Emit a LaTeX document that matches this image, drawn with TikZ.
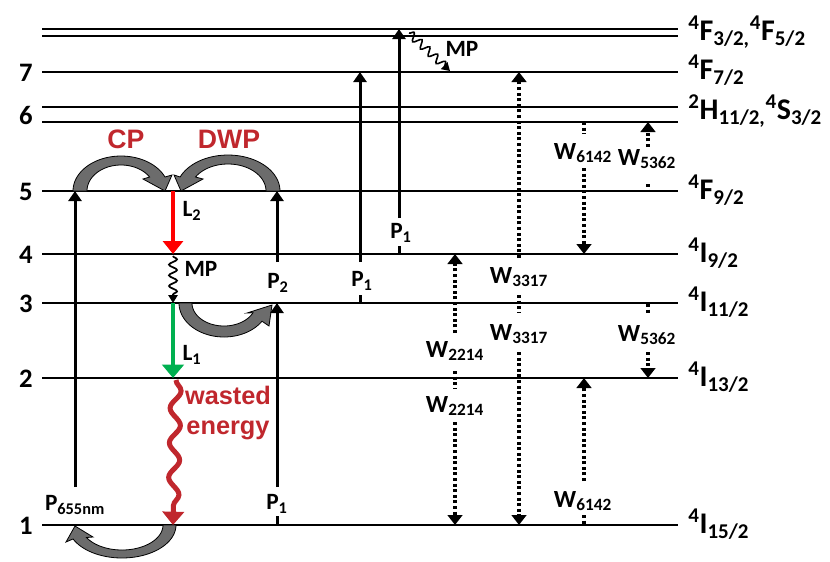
\documentclass[tikz,border=0pt]{standalone}
\usepackage{fontspec}
\setmainfont{Carlito}
\newfontfamily\arialf{Liberation Sans}
\usetikzlibrary{arrows.meta,decorations.pathmorphing}
\definecolor{cpred}{RGB}{192,39,45}
\definecolor{lred}{RGB}{255,0,0}
\definecolor{lgreen}{RGB}{0,176,80}
\definecolor{fatgray}{RGB}{108,108,108}
\begin{document}
\begin{tikzpicture}[x=0.75pt,y=-0.75pt,
  lvl/.style={line width=1.5pt},
  pump/.style={line width=2.25pt,-{Triangle[width=9.75pt,length=7.5pt]}},
  tickline/.style={line width=2.25pt},
  dots/.style={line width=2.4pt,dash pattern=on 2.2pt off 2pt},
  dotarr/.style={dots,-{Triangle[width=11pt,length=7.5pt]}},
  fat/.style={draw=black,line width=0.6pt,fill=fatgray},
  lab/.style={inner sep=0pt,font=\fontsize{17.5}{20}\selectfont\bfseries},
  wlab/.style={inner sep=0pt,font=\fontsize{18.5}{21}\selectfont\bfseries},
  state/.style={inner sep=0pt,anchor=base west,font=\fontsize{22.5}{26}\selectfont\bfseries},
  num/.style={inner sep=0pt,anchor=base,font=\fontsize{20}{24}\selectfont\bfseries},
  redlab/.style={inner sep=0pt,text=cpred,font=\arialf\fontsize{20}{24}\selectfont\bfseries},
]
\useasboundingbox (0,0) rectangle (830,561);

% ---- energy levels
\foreach \n/\y in {lA/29,lB/36,l7/72,l6a/107,l6b/122,l5/191,l4/254,l3/303,l2/378,l1/525}{
  \coordinate (\n-w) at (42,\y);
  \coordinate (\n-e) at (678,\y);
  \draw[lvl] (\n-w) -- (\n-e);
}

% ---- level numbers
\node[num] (n7) at (26,81) {7};
\node[num] (n6) at (26,124) {6};
\node[num] (n5) at (26,200) {5};
\node[num] (n4) at (26,263) {4};
\node[num] (n3) at (26,312) {3};
\node[num] (n2) at (26,387) {2};
\node[num] (n1) at (26,534) {1};

% ---- state labels
\node[state] (sA) at (688,40) {\textsuperscript{4}F\textsubscript{3/2,}\textsuperscript{4}F\textsubscript{5/2}};
\node[state] (s7) at (688,79) {\textsuperscript{4}F\textsubscript{7/2}};
\node[state] (s6) at (688,119) {\textsuperscript{2}H\textsubscript{11/2,}\textsuperscript{4}S\textsubscript{3/2}};
\node[state] (s5) at (688,199) {\textsuperscript{4}F\textsubscript{9/2}};
\node[state] (s4) at (688,262) {\textsuperscript{4}I\textsubscript{9/2}};
\node[state] (s3) at (688,311) {\textsuperscript{4}I\textsubscript{11/2}};
\node[state] (s2) at (688,386) {\textsuperscript{4}I\textsubscript{13/2}};
\node[state] (s1) at (688,533) {\textsuperscript{4}I\textsubscript{15/2}};

% ---- grey curved (fat) arrows
% CP
\draw[fat] plot[domain=180:23.6,samples=40] ({121+48*cos(\x)},{191-35*sin(\x)})
  -- (172,175) -- (165,191) -- (143,179)
  -- plot[domain=32.6:180,samples=40] ({121+34*cos(\x)},{191-26*sin(\x)}) -- cycle;
% DWP
\draw[fat] plot[domain=0:157.1,samples=40] ({228+52*cos(\x)},{191-36*sin(\x)})
  -- (174,175) -- (181,191) -- (203,179)
  -- plot[domain=148.8:0,samples=40] ({228+38*cos(\x)},{191-27*sin(\x)}) -- cycle;
% level 3 transfer
\draw[fat] plot[domain=180:32.4,samples=40] ({224+45*cos(\x)},{303+34*sin(\x)})
  -- (269,326) -- (272,305) -- (247,313)
  -- plot[domain=25:180,samples=40] ({224+32*cos(\x)},{303+23*sin(\x)}) -- cycle;
% ground level return
\draw[fat] plot[domain=0:155,samples=40] ({122+54*cos(\x)},{525+33*sin(\x)})
  -- (66,542) -- (75,526) -- (93,537)
  -- plot[domain=150:0,samples=40] ({122+41*cos(\x)},{525+25*sin(\x)}) -- cycle;

% ---- red / green decay arrows
\coordinate (L2s) at (173,191);
\coordinate (L2e) at (173,254);
\coordinate (MPs) at (173,256);
\coordinate (MPe) at (173,303);
\coordinate (L1s) at (173,303);
\coordinate (L1e) at (173,378);
\coordinate (Ws) at (176,380);
\coordinate (We) at (173,525);
\draw[lred,line width=3.5pt,-{Triangle[width=15pt,length=9.75pt]}] (L2s) -- (L2e);
\draw[line width=1.3pt,decorate,decoration={snake,amplitude=3pt,segment length=8pt,post length=5pt},
  -{Triangle[width=7pt,length=6pt]}] (MPs) -- (MPe);
\draw[lgreen,line width=3.5pt,-{Triangle[width=16pt,length=10pt]}] (L1s) -- (L1e);
\draw[cpred,line width=3.75pt,decorate,decoration={snake,amplitude=4pt,segment length=26pt,post length=9pt},
  -{Triangle[width=16pt,length=10pt]}] (Ws) -- (We);

% ---- top MP
\coordinate (TMs) at (409,33);
\coordinate (TMe) at (450,71);
\draw[line width=1.2pt,decorate,decoration={snake,amplitude=3pt,segment length=8pt,post length=4pt},
  -{Triangle[width=7pt,length=6pt]}] (TMs) -- (TMe);
\node[lab] (mpT) at (462,49) {MP};

% ---- pump arrows
\node[lab] (p655) at (75,505) {P\textsubscript{655nm}};
\coordinate (p655s) at (75,487);
\coordinate (p655e) at (75,191);
\draw[pump] (p655s) -- (p655e);

\node[lab] (p1a) at (277,504) {P\textsubscript{1}};
\coordinate (p1as) at (277,487);
\coordinate (p1ae) at (277,303);
\coordinate (p1at) at (277,516);
\coordinate (p1ab) at (277,525);
\draw[pump] (p1as) -- (p1ae);
\draw[tickline] (p1at) -- (p1ab);

\node[lab] (p2) at (278,283) {P\textsubscript{2}};
\coordinate (p2s) at (277,262);
\coordinate (p2e) at (277,191);
\draw[pump] (p2s) -- (p2e);

\node[lab] (p1b) at (362,281) {P\textsubscript{1}};
\coordinate (p1bs) at (360,262);
\coordinate (p1be) at (360,72);
\coordinate (p1bt) at (360,295);
\coordinate (p1bb) at (360,303);
\draw[pump] (p1bs) -- (p1be);
\draw[tickline] (p1bt) -- (p1bb);

\node[lab] (p1c) at (401,233) {P\textsubscript{1}};
\coordinate (p1cs) at (399,218);
\coordinate (p1ce) at (399,29);
\coordinate (p1ct) at (399,246);
\coordinate (p1cb) at (399,254);
\draw[pump] (p1cs) -- (p1ce);
\draw[tickline] (p1ct) -- (p1cb);

% ---- left labels
\node[redlab] (cp) at (126,139) {CP};
\node[redlab] (dwp) at (229,139) {DWP};
\node[lab] (lL2) at (192,211) {L\textsubscript{2}};
\node[lab] (mpL) at (201,269) {MP};
\node[lab] (lL1) at (192,355) {L\textsubscript{1}};
\node[inner sep=0pt,text=cpred,align=center,font=\arialf\fontsize{19}{22.5}\selectfont\bfseries] (waste) at (228,413) {wasted\\energy};

% ---- dotted energy-transfer arrows
% W2214
\draw[dotarr] (455,333) -- (455,254);
\draw[dots] (455,371) -- (455,388);
\draw[dotarr] (455,422) -- (455,525);
\node[wlab] (w2214a) at (455,351) {W\textsubscript{2214}};
\node[wlab] (w2214b) at (455,406) {W\textsubscript{2214}};
% W3317
\draw[dotarr] (519,258) -- (519,72);
\draw[dots] (519,295) -- (519,313);
\draw[dotarr] (519,352) -- (519,525);
\node[wlab] (w3317a) at (519,277) {W\textsubscript{3317}};
\node[wlab] (w3317b) at (519,334) {W\textsubscript{3317}};
% W6142
\draw[dots] (584,122) -- (584,134);
\draw[dotarr] (584,168) -- (584,254);
\draw[dotarr] (584,481) -- (584,378);
\draw[dots] (584,515) -- (584,525);
\node[wlab] (w6142a) at (583,153) {W\textsubscript{6142}};
\node[wlab] (w6142b) at (583,501) {W\textsubscript{6142}};
% W5362
\draw[dotarr] (648,147) -- (648,122);
\draw[dots] (648,184) -- (648,191);
\draw[dots] (648,304) -- (648,314);
\draw[dotarr] (648,352) -- (648,378);
\node[wlab] (w5362a) at (647,159) {W\textsubscript{5362}};
\node[wlab] (w5362b) at (647,335) {W\textsubscript{5362}};
\end{tikzpicture}
\end{document}
